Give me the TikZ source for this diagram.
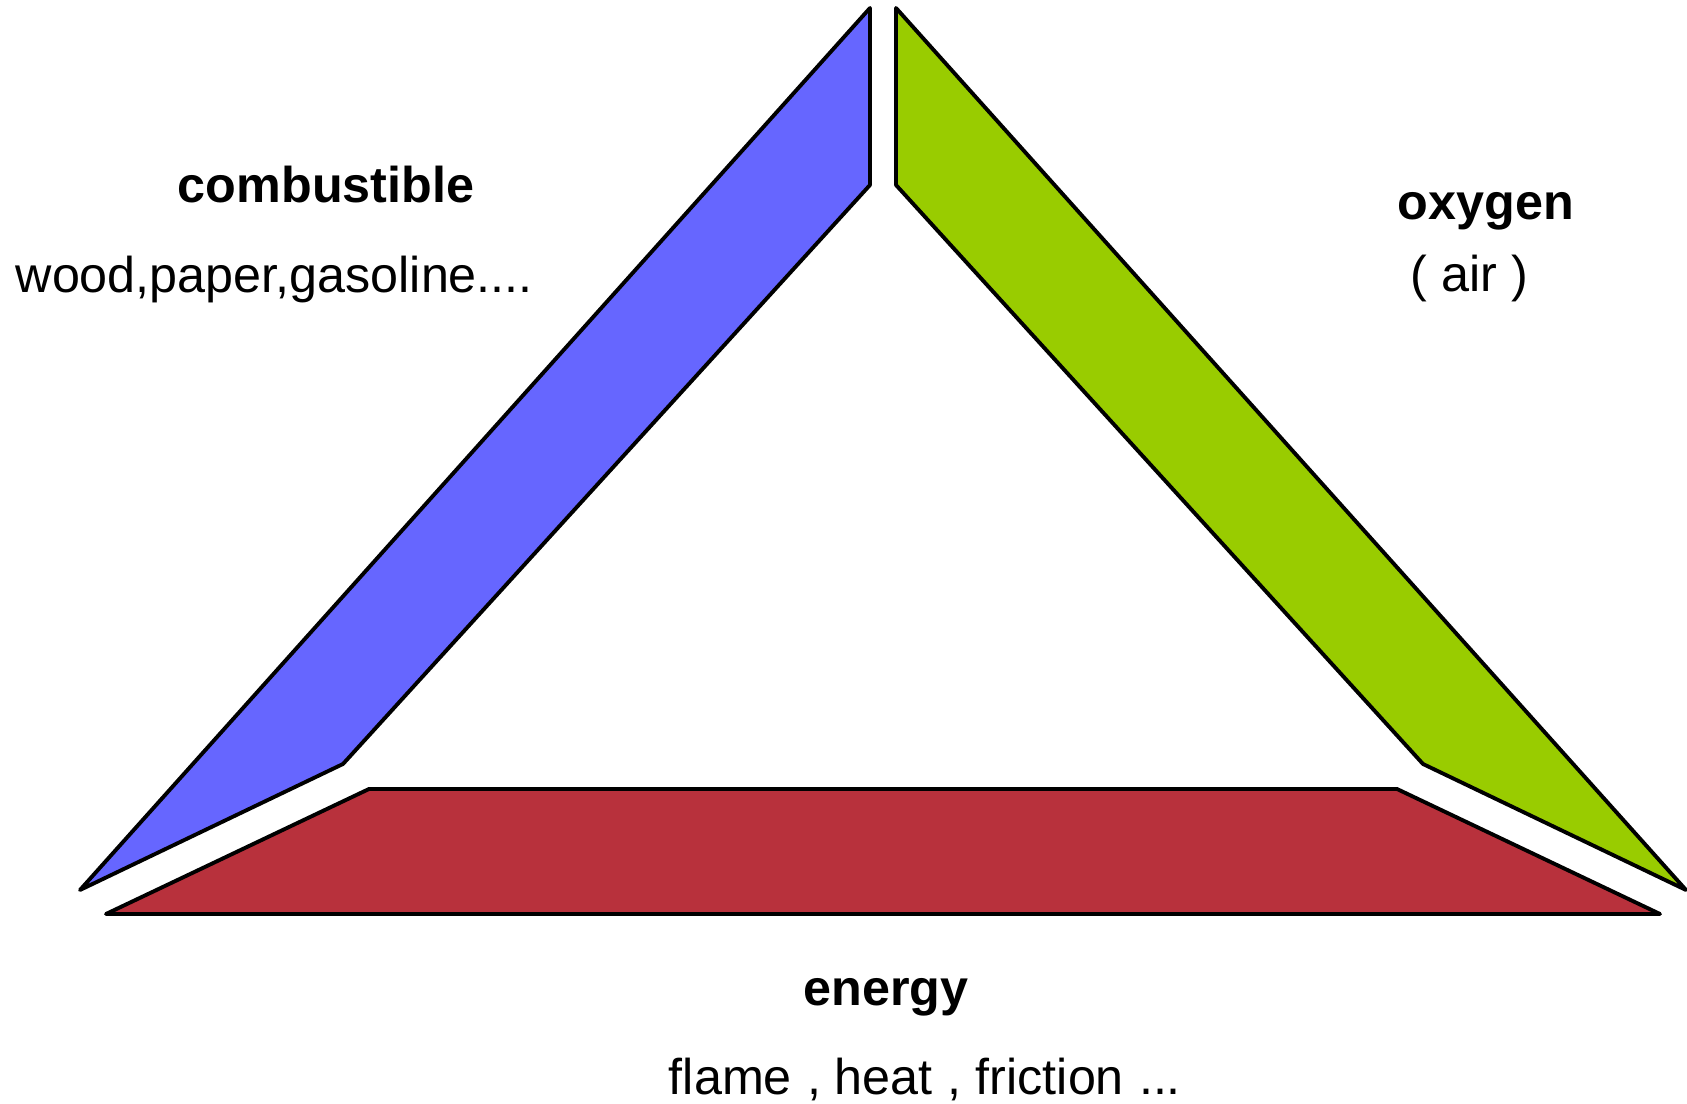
\documentclass[tikz,border=0pt]{standalone}
\usepackage{fontspec}
\setmainfont{Liberation Sans}
\usepackage{tikz}
\definecolor{fuelblue}{HTML}{6666FF}
\definecolor{airgreen}{HTML}{99CC00}
\definecolor{heatred}{HTML}{B8313C}
\tikzset{
side/.style={ % Sets the properties for each side of the triangle
draw=black,
line width=1.1pt,
line join=round},
title/.style={ % Bold heading of each side
font=\fontsize{14.3}{17}\selectfont\bfseries,
inner sep=0pt},
detail/.style={ % Examples under each heading
font=\fontsize{14.3}{17}\selectfont,
inner sep=0pt}}

\begin{document}
\begin{tikzpicture}[x=0.01cm, y=-0.01cm]
\useasboundingbox (0,0) rectangle (1687,1104);
\fill[white] (0,0) rectangle (1687,1104);
\draw[side, fill=fuelblue] (870,8) -- (870,185) -- (343,764) -- (80,890) -- cycle;
\draw[side, fill=airgreen] (896,8) -- (896,185) -- (1423,764) -- (1686,890) -- cycle;
\draw[side, fill=heatred] (106,914) -- (369,789) -- (1397,789) -- (1660,914) -- cycle;
\node[title, anchor=base] (comb) at (326,203) {combustible};
\node[detail, anchor=base west] (combtxt) at (15,293) {wood,paper,gasoline....};
\node[title, anchor=base west] (oxy) at (1397,220) {oxygen};
\node[detail, anchor=base west] (oxytxt) at (1410,292) {( air )};
\node[title, anchor=base] (ener) at (886,1006) {energy};
\node[detail, anchor=base] (enertxt) at (925,1095) {flame\hspace{0.3em}, heat\hspace{0.3em}, friction\hspace{0.3em}...};
\end{tikzpicture}
\end{document}
